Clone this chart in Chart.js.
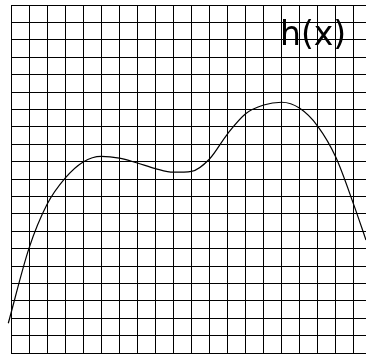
<!DOCTYPE html>
<html>
<head>
<meta charset="utf-8">
<script src="https://cdn.jsdelivr.net/npm/chart.js@4"></script>
<style>
  body { margin: 0; background: #fff; overflow: hidden; }
</style>
</head>
<body>
<canvas id="myChart" width="366" height="354"></canvas>
<script>
// curve h(x) (grid units)
const xValues = [-0.15, 1, 2, 3, 4, 5, 6, 7, 8, 9, 10, 11, 12, 13, 14, 15, 16, 17, 18, 19, 19.67];
const hValues = [1.71, 6.03, 8.55, 10.05, 10.98, 11.3, 11.2, 10.92, 10.6, 10.39, 10.44, 11.15, 12.6, 13.75, 14.25, 14.41, 14.06, 13.03, 11.25, 8.5, 6.49];
const xTicks = [0, 1, 2, 3, 4, 5, 6, 7, 8, 9, 10, 11, 12, 13, 14, 15, 16, 17, 18, 19];
const yTicks = [0, 1, 2, 3, 4, 5, 6, 7, 8, 9, 10, 11, 12, 13, 14, 15, 16, 17, 18, 19, 20];
const curveLabel = 'h(x)';

const points = [];
for (let i = 0; i < xValues.length; i++) {
    points.push({ x: xValues[i], y: hValues[i] });
}

// draws the function name in the top right corner
const labelPlugin = {
    id: 'curveLabel',
    afterDraw(chart) {
        const ctx = chart.ctx;
        ctx.save();
        ctx.font = '33px "DejaVu Sans"';
        ctx.fillStyle = '#000';
        ctx.textAlign = 'left';
        ctx.textBaseline = 'alphabetic';
        ctx.fillText(curveLabel, 280, 45);
        ctx.restore();
    }
};

new Chart(document.getElementById('myChart'), {
    type: 'line',
    data: {
        datasets: [{
            label: curveLabel,
            data: points,
            borderColor: '#000',
            borderWidth: 1.2,
            pointRadius: 0,
            tension: 0.4,
            cubicInterpolationMode: 'monotone',
            clip: false,
            fill: false
        }]
    },
    options: {
        responsive: false,
        animation: false,
        layout: { padding: { left: 11, top: 5, right: 0, bottom: 1 } },
        plugins: {
            legend: { display: false },
            tooltip: { enabled: false }
        },
        scales: {
            x: {
                type: 'linear',
                min: 0,
                max: 19.67,
                afterBuildTicks: (scale) => { scale.ticks = xTicks.map(v => ({ value: v })); },
                ticks: { display: false },
                grid: { color: '#000', lineWidth: 1, drawTicks: false },
                border: { display: false }
            },
            y: {
                type: 'linear',
                min: 0,
                max: 20,
                afterBuildTicks: (scale) => { scale.ticks = yTicks.map(v => ({ value: v })); },
                ticks: { display: false },
                grid: { color: '#000', lineWidth: 1, drawTicks: false },
                border: { display: false }
            }
        }
    },
    plugins: [labelPlugin]
});
</script>
</body>
</html>
